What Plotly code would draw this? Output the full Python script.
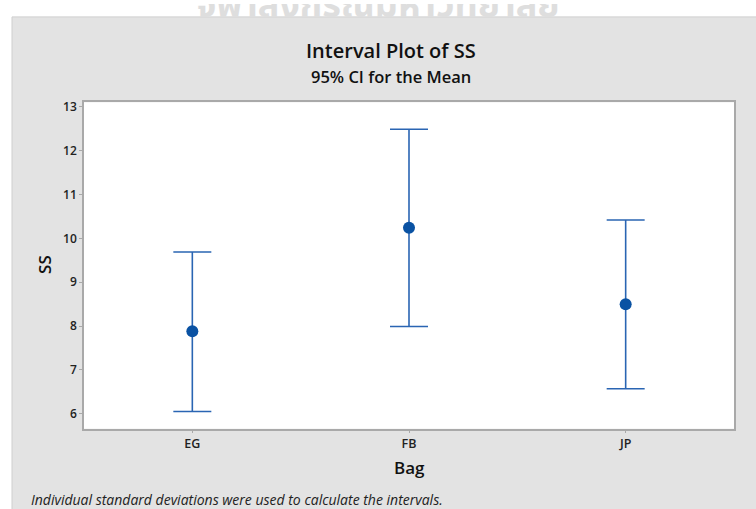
import plotly.graph_objects as go

# Interval plot data: mean and 95% CI bounds per bag type
categories = ["EG", "FB", "JP"]
means = [7.88, 10.24, 8.50]
upper = [9.69, 12.49, 10.42]
lower = [6.05, 7.99, 6.57]
y_ticks = [6, 7, 8, 9, 10, 11, 12, 13]

W, H = 756, 509


def px_x(p):
    return p / W


def px_y(p):
    return 1 - p / H


FONT = "Open Sans"
LINE_BLUE = "#2a65b3"
DOT_BLUE = "#0a52a3"

# plot-area edges in pixels
PL, PR, PT, PB = 84, 734, 99, 428

err_plus = [u - m for u, m in zip(upper, means)]
err_minus = [m - l for m, l in zip(means, lower)]

fig = go.Figure()

fig.add_trace(go.Scatter(
    x=categories,
    y=means,
    mode="markers",
    marker=dict(color=DOT_BLUE, size=12),
    error_y=dict(
        type="data",
        array=err_plus,
        arrayminus=err_minus,
        color=LINE_BLUE,
        thickness=1.6,
        width=19,
    ),
    showlegend=False,
    hoverinfo="skip",
))

# faint header text above the panel, clipped to the top strip
fig.add_trace(go.Scatter(
    x=[0.5],
    y=[9],
    mode="text",
    text=["จุฬาลงกรณ์มหาวิทยาลัย"],
    textfont=dict(family="Noto Sans Thai, Noto Sans, sans-serif", size=36,
                  color="#dedede", weight="bold"),
    textposition="middle center",
    cliponaxis=True,
    xaxis="x2",
    yaxis="y2",
    showlegend=False,
    hoverinfo="skip",
))

axis_line = "#a9a9a9"

fig.update_layout(
    width=W,
    height=H,
    margin=dict(l=0, r=0, t=0, b=0),
    paper_bgcolor="white",
    plot_bgcolor="rgba(0,0,0,0)",
    font=dict(family=FONT, color="#222222"),
    xaxis=dict(
        domain=[px_x(PL), px_x(PR)],
        type="category",
        categoryorder="array",
        categoryarray=categories,
        range=[-0.5, 2.5],
        showgrid=False,
        zeroline=False,
        showline=True,
        linecolor=axis_line,
        linewidth=1.5,
        mirror=True,
        ticks="outside",
        ticklen=3,
        tickcolor=axis_line,
        tickfont=dict(size=12.5, weight=600, color="#222222"),
        anchor="y",
    ),
    yaxis=dict(
        domain=[px_y(PB), px_y(PT)],
        range=[5.66, 13.106],
        tickvals=y_ticks,
        showgrid=False,
        zeroline=False,
        showline=True,
        linecolor=axis_line,
        linewidth=1.5,
        mirror=True,
        ticks="outside",
        ticklen=3,
        tickcolor=axis_line,
        tickfont=dict(size=12, weight=600, color="#222222"),
        anchor="x",
    ),
    xaxis2=dict(domain=[0, 1], range=[0, 1], visible=False, anchor="y2"),
    yaxis2=dict(domain=[px_y(13), 1], range=[0, 13], visible=False, anchor="x2"),
    shapes=[
        # grey outer panel
        dict(
            type="rect", xref="paper", yref="paper",
            x0=px_x(12), x1=1.01, y0=-0.01, y1=px_y(13),
            fillcolor="#e3e3e3", line=dict(color="#cfcfcf", width=1),
            layer="below",
        ),
        # white data area
        dict(
            type="rect", xref="paper", yref="paper",
            x0=px_x(PL), x1=px_x(PR), y0=px_y(PB), y1=px_y(PT),
            fillcolor="white", line=dict(width=0),
            layer="below",
        ),
    ],
    annotations=[
        dict(text="Interval Plot of SS", x=px_x(391), y=px_y(47),
             xref="paper", yref="paper", showarrow=False,
             xanchor="center", yanchor="middle",
             font=dict(size=20, weight=600, color="#111111")),
        dict(text="95% CI for the Mean", x=px_x(391), y=px_y(73),
             xref="paper", yref="paper", showarrow=False,
             xanchor="center", yanchor="middle",
             font=dict(size=16.5, weight=600, color="#111111")),
        dict(text="SS", x=px_x(45), y=px_y(263),
             xref="paper", yref="paper", showarrow=False, textangle=-90,
             xanchor="center", yanchor="middle",
             font=dict(size=17, weight=600, color="#111111")),
        dict(text="Bag", x=px_x(409), y=px_y(467),
             xref="paper", yref="paper", showarrow=False,
             xanchor="center", yanchor="middle",
             font=dict(size=17, weight=600, color="#111111")),
        dict(text="<i>Individual standard deviations were used to calculate the intervals.</i>",
             x=px_x(29), y=px_y(499),
             xref="paper", yref="paper", showarrow=False,
             xanchor="left", yanchor="middle",
             font=dict(size=14, color="#222222")),
    ],
)

fig.write_html("out.html")
